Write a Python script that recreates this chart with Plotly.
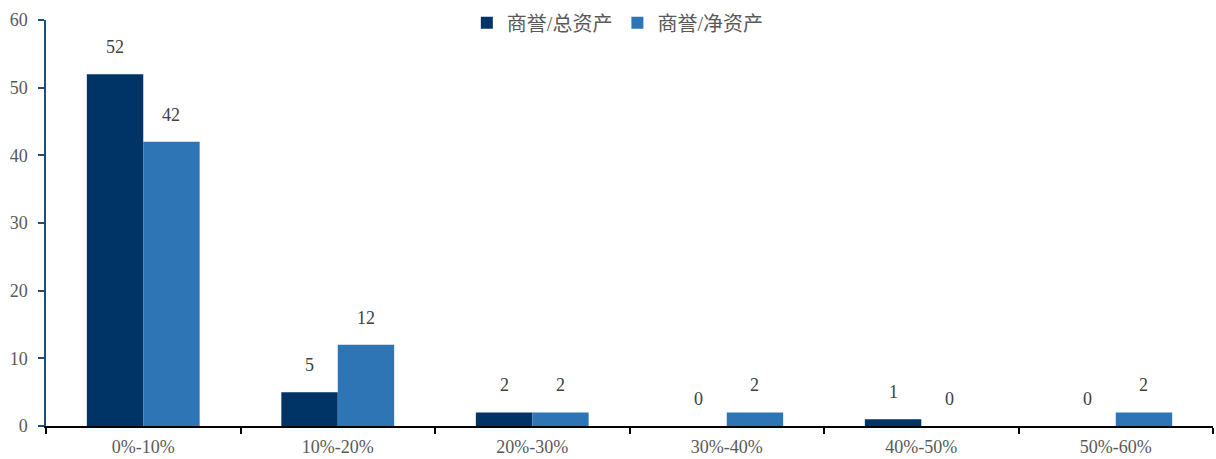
import plotly.graph_objects as go

categories = ["0%-10%", "10%-20%", "20%-30%", "30%-40%", "40%-50%", "50%-60%"]
total_assets = [52, 5, 2, 0, 1, 0]
net_assets = [42, 12, 2, 2, 0, 2]
series_names = ["商誉/总资产", "商誉/净资产"]
colors = ["#003366", "#2E75B6"]

W, H = 1216, 459
ML, MR, MT, MB = 46, 3, 17, 33
bargap = 0.42

font_num = "Liberation Serif, Times New Roman, serif"
font_cjk = "Liberation Serif, Noto Sans CJK SC, serif"
txt_color = "#595959"

fig = go.Figure()
for name, vals, col in zip(series_names, [total_assets, net_assets], colors):
    fig.add_trace(go.Bar(x=categories, y=vals, name=name, marker_color=col,
                         marker_line_width=0))

# data labels
plot_w = W - ML - MR
cat_w = plot_w / len(categories)
bar_w = cat_w * (1 - bargap) / 2
for i, vals in enumerate([total_assets, net_assets]):
    shift = (-0.5 if i == 0 else 0.5) * bar_w
    for c, v in zip(categories, vals):
        fig.add_annotation(x=c, y=v, text=str(v), showarrow=False,
                           xshift=shift, yshift=27, yanchor="middle",
                           font=dict(family=font_num, size=18, color="#404040"))

fig.update_layout(
    width=W, height=H,
    margin=dict(l=ML, r=MR, t=MT, b=MB),
    paper_bgcolor="white", plot_bgcolor="white",
    barmode="group", bargap=bargap, bargroupgap=0,
    font=dict(family=font_num, size=18, color=txt_color),
    legend=dict(orientation="h", x=0.49, xanchor="center", y=0.993, yanchor="middle",
                font=dict(family=font_cjk, size=20, color=txt_color),
                bgcolor="rgba(0,0,0,0)", itemwidth=30, tracegroupgap=0),
    xaxis=dict(showline=True, linecolor="black", linewidth=1.5,
               ticks="outside", tickson="boundaries", ticklen=6, tickcolor="black",
               tickwidth=1.5, showgrid=False, ticklabelstandoff=4,
               tickfont=dict(family=font_num, size=18, color=txt_color)),
    yaxis=dict(range=[0, 60], dtick=10, showline=True, linecolor="#1F4E79", linewidth=1.5,
               ticks="outside", ticklen=6, tickcolor="#1F4E79", tickwidth=1.5,
               showgrid=False, zeroline=False, ticklabelstandoff=7,
               tickfont=dict(family=font_num, size=18, color=txt_color)),
)

fig.write_html("out.html")
